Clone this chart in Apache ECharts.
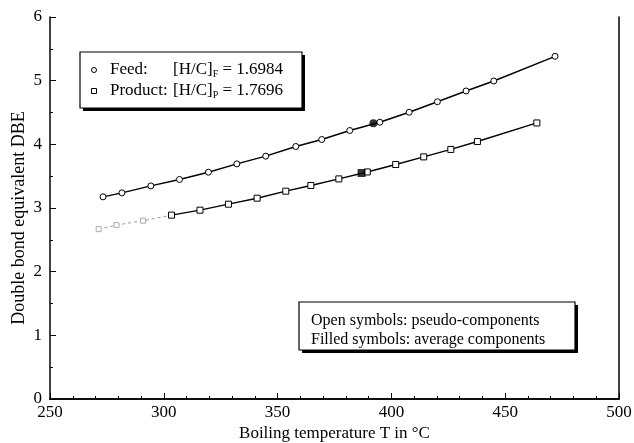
<!DOCTYPE html>
<html>
<head>
<meta charset="utf-8">
<script src="https://cdn.jsdelivr.net/npm/echarts@6/dist/echarts.min.js"></script>
<style>
html,body{margin:0;padding:0;background:#fff;}
#chart{width:634px;height:443px;}
</style>
</head>
<body>
<div id="chart"></div>
<script>
// Feed pseudo-components (open circles)
const feedT   = [273.3, 281.6, 294.3, 306.9, 319.6, 332.1, 344.8, 358.0, 369.4, 381.7, 394.9, 407.8, 420.2, 432.8, 445.0, 471.9];
const feedDBE = [3.175, 3.238, 3.347, 3.448, 3.562, 3.693, 3.814, 3.966, 4.076, 4.217, 4.347, 4.504, 4.669, 4.838, 4.995, 5.383];
// Product pseudo-components (open squares)
const prodT   = [271.4, 279.2, 290.9, 303.4, 315.9, 328.4, 341.0, 353.6, 364.6, 376.9, 389.4, 401.9, 414.2, 426.1, 437.8, 463.9];
const prodDBE = [2.668, 2.731, 2.801, 2.888, 2.966, 3.060, 3.154, 3.264, 3.354, 3.457, 3.566, 3.683, 3.803, 3.920, 4.044, 4.336];
// Average components (filled symbols)
const feedAvg = [392.1, 4.331];
const prodAvg = [386.9, 3.550];
// Axes
const xTicks = [250, 300, 350, 400, 450, 500];
const yTicks = [0, 1, 2, 3, 4, 5, 6];
const fadedCount = 4; // first product points printed faintly

const FONT = '"Liberation Serif", "Times New Roman", serif';
const zip = (a, b) => a.map((v, i) => [v, b[i]]);
const feedData = zip(feedT, feedDBE);
const prodData = zip(prodT, prodDBE);

const chart = echarts.init(document.getElementById('chart'), null, {renderer: 'canvas'});

function axisCommon(extra) {
  return Object.assign({
    axisLine: {show: true, onZero: false, lineStyle: {color: '#000', width: 1.5}},
    axisTick: {show: true, inside: true, length: 6, lineStyle: {color: '#000', width: 1}},
    minorTick: {show: true, splitNumber: 5, length: 3, lineStyle: {color: '#000', width: 1}},
    splitLine: {show: false}
  }, extra);
}

const option = {
  backgroundColor: '#fff',
  animation: false,
  grid: {left: 50, right: 15, top: 17, bottom: 44, containLabel: false, outerBoundsMode: 'none'},
  xAxis: [
    axisCommon({
      type: 'value', min: xTicks[0], max: xTicks[xTicks.length - 1], interval: 50,
      name: 'Boiling temperature T in \u00B0C', nameLocation: 'middle', nameGap: 26,
      nameMoveOverlap: false,
      nameTextStyle: {color: '#000', fontFamily: FONT, fontSize: 17},
      axisLabel: {color: '#000', fontFamily: FONT, fontSize: 17, margin: 5}
    }),
    {type: 'value', position: 'top', min: 250, max: 500, interval: 50,
     axisLine: {show: true, lineStyle: {color: '#000', width: 1.5}},
     axisTick: {show: false}, axisLabel: {show: false}, splitLine: {show: false}}
  ],
  yAxis: [
    axisCommon({
      type: 'value', min: yTicks[0], max: yTicks[yTicks.length - 1], interval: 1,
      minorTick: {show: true, splitNumber: 2, length: 3, lineStyle: {color: '#000', width: 1}},
      name: 'Double bond equivalent DBE', nameLocation: 'middle', nameGap: 22,
      nameMoveOverlap: false,
      nameTextStyle: {color: '#000', fontFamily: FONT, fontSize: 18, padding: [0, 20, 0, 0]},
      axisLabel: {color: '#000', fontFamily: FONT, fontSize: 17, margin: 8}
    }),
    {type: 'value', position: 'right', min: 0, max: 6, interval: 1,
     axisLine: {show: true, lineStyle: {color: '#000', width: 1.5}},
     axisTick: {show: false}, axisLabel: {show: false}, splitLine: {show: false}}
  ],
  series: [
    {
      name: 'Feed', type: 'line', data: feedData,
      symbol: 'circle', symbolSize: 6, showAllSymbol: true,
      lineStyle: {color: '#000', width: 1.4},
      itemStyle: {color: '#fff', borderColor: '#000', borderWidth: 1}, z: 3
    },
    {
      name: 'Product', type: 'line', data: prodData.slice(fadedCount - 1),
      symbol: 'rect', symbolSize: 6, showAllSymbol: true,
      lineStyle: {color: '#000', width: 1.4},
      itemStyle: {color: '#fff', borderColor: '#000', borderWidth: 1}, z: 3
    },
    {
      name: 'ProductFaint', type: 'line', data: prodData.slice(0, fadedCount),
      symbol: 'rect', symbolSize: 5, showAllSymbol: true,
      lineStyle: {color: '#999', width: 1, type: [3, 3]},
      itemStyle: {color: '#fff', borderColor: '#aaa', borderWidth: 1}, z: 2
    },
    {
      name: 'Feed average', type: 'scatter', data: [feedAvg],
      symbol: 'circle', symbolSize: 8, itemStyle: {color: '#000'}, z: 4
    },
    {
      name: 'Product average', type: 'scatter', data: [prodAvg],
      symbol: 'rect', symbolSize: 8, itemStyle: {color: '#000'}, z: 4
    }
  ],
  graphic: [
    // legend box with shadow
    {type: 'rect', shape: {x: 83, y: 55, width: 222, height: 56}, style: {fill: '#000'}, z: 10},
    {type: 'rect', shape: {x: 80, y: 52, width: 222, height: 56}, style: {fill: '#fff', stroke: '#000', lineWidth: 1.2}, z: 11},
    {type: 'circle', shape: {cx: 94, cy: 70, r: 2.5}, style: {fill: '#fff', stroke: '#000', lineWidth: 1}, z: 12},
    {type: 'rect', shape: {x: 91.5, y: 88.5, width: 5, height: 5}, style: {fill: '#fff', stroke: '#000', lineWidth: 1}, z: 12},
    {type: 'text', x: 110, y: 70, style: {text: 'Feed:', font: '17px ' + FONT, fill: '#000', verticalAlign: 'middle'}, z: 12},
    {type: 'text', x: 110, y: 91, style: {text: 'Product:', font: '17px ' + FONT, fill: '#000', verticalAlign: 'middle'}, z: 12},
    {type: 'text', x: 173, y: 70, style: {
      text: '[H/C]{s|F} = 1.6984', font: '17px ' + FONT, fill: '#000', verticalAlign: 'middle',
      rich: {s: {fontSize: 10, fontFamily: FONT, fill: '#000', padding: [8, 0, 0, 0]}}}, z: 12},
    {type: 'text', x: 173, y: 91, style: {
      text: '[H/C]{s|P} = 1.7696', font: '17px ' + FONT, fill: '#000', verticalAlign: 'middle',
      rich: {s: {fontSize: 10, fontFamily: FONT, fill: '#000', padding: [8, 0, 0, 0]}}}, z: 12},
    // note box with shadow
    {type: 'rect', shape: {x: 302, y: 305, width: 276, height: 48}, style: {fill: '#000'}, z: 10},
    {type: 'rect', shape: {x: 299, y: 302, width: 276, height: 48}, style: {fill: '#fff', stroke: '#000', lineWidth: 1.2}, z: 11},
    {type: 'text', x: 311, y: 321, style: {text: 'Open symbols: pseudo-components', font: '16px ' + FONT, fill: '#000', verticalAlign: 'middle'}, z: 12},
    {type: 'text', x: 311, y: 340, style: {text: 'Filled symbols: average components', font: '16px ' + FONT, fill: '#000', verticalAlign: 'middle'}, z: 12}
  ]
};
chart.setOption(option);
</script>
</body>
</html>
